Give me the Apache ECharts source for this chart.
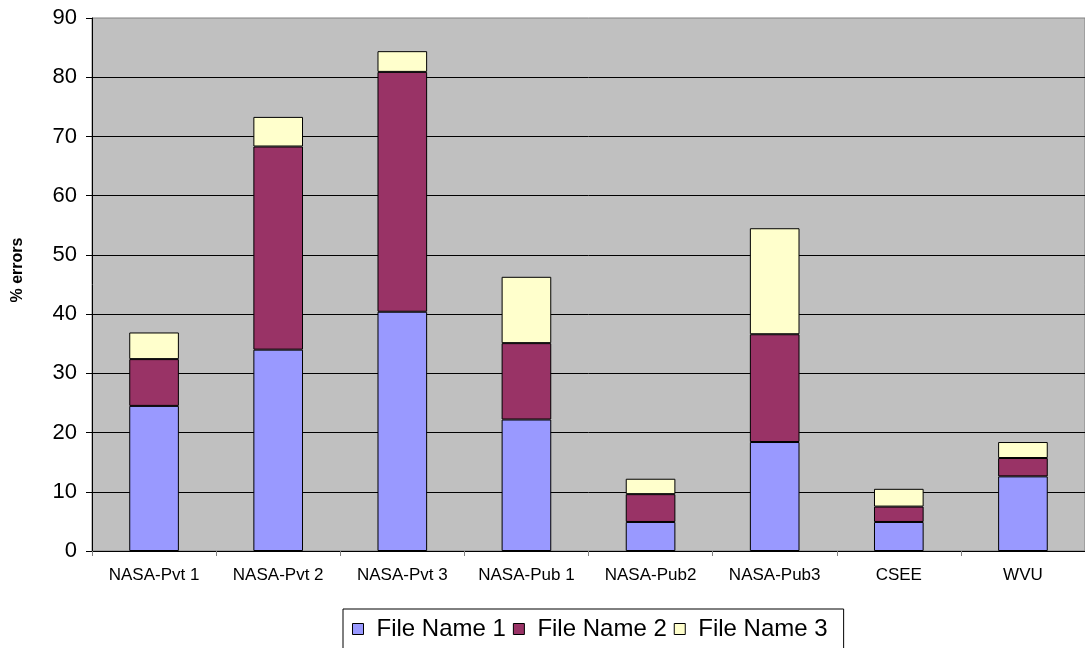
<!DOCTYPE html>
<html>
<head>
<meta charset="utf-8">
<script src="https://cdn.jsdelivr.net/npm/echarts@6/dist/echarts.min.js"></script>
<style>
  html, body { margin: 0; padding: 0; background: #fff; }
  #chart { width: 1085px; height: 648px; }
</style>
</head>
<body>
<div id="chart"></div>
<script>
// Error share per data set, split by file name (stacked)
const categories = ['NASA-Pvt 1', 'NASA-Pvt 2', 'NASA-Pvt 3', 'NASA-Pub 1', 'NASA-Pub2', 'NASA-Pub3', 'CSEE', 'WVU'];
const seriesNames = ['File Name 1', 'File Name 2', 'File Name 3'];
const fileName1 = [24.5, 34.0, 40.4, 22.2, 4.9, 18.4, 4.9, 12.6];
const fileName2 = [7.9, 34.3, 40.5, 12.9, 4.7, 18.2, 2.6, 3.1];
const fileName3 = [4.5, 5.0, 3.5, 11.2, 2.6, 17.9, 3.0, 2.7];
const yTicks = { min: 0, max: 90, step: 10 };

const FONT = '"Liberation Sans", Arial, sans-serif';
const colors = ['#9999FF', '#993366', '#FFFFCC'];
const values = [fileName1, fileName2, fileName3];

const chart = echarts.init(document.getElementById('chart'), null, { renderer: 'canvas' });

chart.setOption({
  animation: false,
  backgroundColor: '#ffffff',
  grid: {
    left: 92, top: 18, width: 1000, height: 533,
    show: true,
    backgroundColor: '#C0C0C0',
    borderColor: '#808080',
    borderWidth: 1
  },
  legend: {
    left: 343, top: 609,
    orient: 'horizontal',
    data: seriesNames,
    icon: 'rect',
    itemWidth: 11, itemHeight: 11,
    itemGap: 7,
    padding: [8, 16, 12, 9],
    backgroundColor: '#ffffff',
    borderColor: '#000000',
    borderWidth: 1,
    itemStyle: { borderColor: '#000000', borderWidth: 1 },
    textStyle: { fontFamily: FONT, fontSize: 24, color: '#000', padding: [0, 0, 0, 8] }
  },
  xAxis: {
    type: 'category',
    data: categories,
    axisLine: { lineStyle: { color: '#000', width: 1 } },
    axisTick: { show: true, alignWithLabel: false, length: 5, lineStyle: { color: '#808080' } },
    axisLabel: { fontFamily: FONT, fontSize: 17, color: '#000', margin: 16, interval: 0 },
    splitLine: { show: false }
  },
  yAxis: {
    type: 'value',
    min: yTicks.min, max: yTicks.max, interval: yTicks.step,
    axisLine: { show: true, lineStyle: { color: '#000', width: 1 } },
    axisTick: { show: true, inside: false, length: 6, lineStyle: { color: '#000' } },
    axisLabel: { fontFamily: FONT, fontSize: 22, color: '#000', margin: 15 },
    splitLine: { show: true, showMaxLine: false, lineStyle: { color: '#000', width: 1 } }
  },
  graphic: [{
    type: 'text',
    x: 18, y: 270,
    rotation: Math.PI / 2,
    style: {
      text: '% errors',
      font: 'bold 16px ' + FONT,
      fill: '#000',
      align: 'center',
      verticalAlign: 'middle'
    }
  }],
  series: seriesNames.map((name, i) => ({
    name: name,
    type: 'bar',
    stack: 'total',
    barWidth: '40%',
    data: values[i],
    itemStyle: { color: colors[i], borderColor: '#000', borderWidth: 1 }
  }))
});
</script>
</body>
</html>
